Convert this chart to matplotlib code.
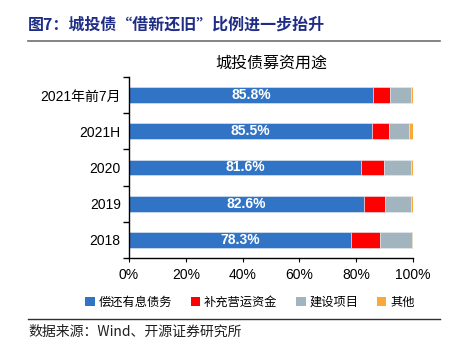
import matplotlib
matplotlib.use("Agg")
import matplotlib.pyplot as plt
from matplotlib.patches import Patch
from matplotlib.ticker import FuncFormatter
import numpy as np

plt.rcParams['font.family'] = ['Liberation Sans', 'Noto Sans CJK SC', 'DejaVu Sans']

# data (2018 at bottom)
periods = ["2018", "2019", "2020", "2021H", "2021年前7月"]
repay_debt = [78.3, 82.6, 81.6, 85.5, 85.8]
working_cap = [10.2, 7.5, 8.2, 6.2, 6.2]
projects = [11.0, 9.1, 9.6, 7.0, 7.3]
others = [0.5, 0.8, 0.6, 1.3, 0.7]
series_names = ["偿还有息债务", "补充营运资金", "建设项目", "其他"]
colors = ["#3174C6", "#FF0000", "#A2B5BF", "#F9A93A"]

fig = plt.figure(figsize=(4.6, 3.54), dpi=100)
ax = fig.add_axes([129 / 460, 1 - 258 / 354, 284 / 460, 181 / 354])

y = np.arange(len(periods))
left = np.zeros(len(periods))
for vals, c in zip([repay_debt, working_cap, projects, others], colors):
    ax.barh(y, vals, left=left, height=0.44, color=c,
            edgecolor="#E6ECF2", linewidth=0.4)
    left += np.array(vals)

for yi, v in zip(y, repay_debt):
    ax.text(v / 2, yi, f"{v}%", ha="center", va="center", color="white",
            fontsize=10, fontweight="bold")

ax.set_xlim(0, 100)
ax.set_ylim(-0.5, len(periods) - 0.5)
ax.set_xticks(np.arange(0, 101, 20))
ax.xaxis.set_major_formatter(FuncFormatter(lambda v, p: f"{int(v)}%"))
ax.set_yticks(y)
ax.set_yticklabels(periods)
ax.set_yticks(np.arange(-0.5, len(periods), 1), minor=True)
ax.tick_params(axis="y", which="major", length=0, labelsize=10, pad=6)
ax.tick_params(axis="y", which="minor", length=4, direction="out", width=1)
ax.tick_params(axis="x", length=3, labelsize=10, pad=4)
for s in ["top", "right"]:
    ax.spines[s].set_visible(False)
for s in ["left", "bottom"]:
    ax.spines[s].set_linewidth(1.0)

ax.set_title("城投债募资用途", fontsize=11.5, pad=7,
             family=['Noto Sans CJK SC', 'DejaVu Sans'])

handles = [Patch(facecolor=c, edgecolor="none") for c in colors]
fig.legend(handles, series_names, loc="center", bbox_to_anchor=(250 / 460, 1 - 302 / 354),
           ncol=4, frameon=False, handlelength=0.8, handleheight=0.8,
           handletextpad=0.3, columnspacing=1.5,
           prop={'family': ['Noto Sans CJK SC', 'DejaVu Sans'], 'size': 8.8})

# header and footer
fig.text(28 / 460, 1 - 25 / 354, "图7：城投债“借新还旧”比例进一步抬升", fontsize=11.5,
         fontweight="bold", color="#1F2D86", va="center",
         family=['Noto Sans CJK SC', 'DejaVu Sans'])
fig.add_artist(plt.Line2D([28 / 460, 440 / 460], [1 - 41 / 354, 1 - 41 / 354],
                          color="#707070", linewidth=1.2))
fig.add_artist(plt.Line2D([28 / 460, 440 / 460], [1 - 319 / 354, 1 - 319 / 354],
                          color="#303030", linewidth=1.0))
fig.text(28 / 460, 1 - 332 / 354, "数据来源：Wind、开源证券研究所", fontsize=10,
         va="center", color="#202020", family=['Noto Sans CJK SC', 'DejaVu Sans'])

fig.savefig("out.png", dpi=100)
